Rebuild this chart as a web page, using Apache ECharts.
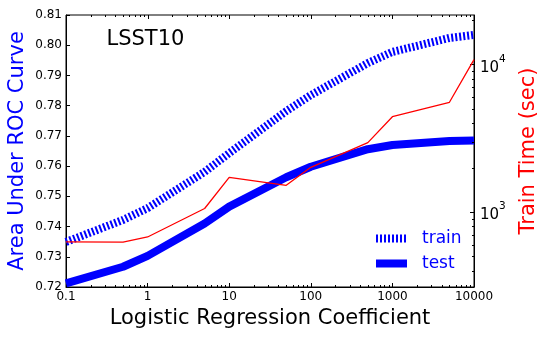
<!DOCTYPE html>
<html><head><meta charset="utf-8">
<script src="https://cdn.jsdelivr.net/npm/echarts@6/dist/echarts.min.js"></script>
<style>html,body{margin:0;padding:0;background:#fff}#c{width:548px;height:339px}</style>
</head><body><div id="c"></div>
<script>
// ---- data ----
const coefficients = [0.1, 0.5, 1, 5, 10, 50, 100, 500, 1000, 5000, 10000];
const trainAUC = [0.7349, 0.7422, 0.7461, 0.7581, 0.7643, 0.7782, 0.7835, 0.7941, 0.7978, 0.8024, 0.8034];
const testAUC  = [0.7212, 0.7267, 0.7303, 0.7410, 0.7466, 0.7563, 0.7598, 0.7656, 0.7670, 0.7683, 0.7685];
const trainTime = [627, 624, 677, 1056, 1718, 1517, 2009, 2951, 4426, 5546, 10800];

const xTickValues = [0.1, 1, 10, 100, 1000, 10000];
const xTickLabels = ['0.1', '1', '10', '100', '1000', '10000'];
const timeTickValues = [1000, 10000];
const timeTickExponents = ['3', '4'];
const seriesNames = ['train', 'test'];

// minor tick positions (axis decoration)
const xMinor = [];
[0.1, 1, 10, 100, 1000].forEach(d => { for (let k = 2; k <= 9; k++) xMinor.push(+(k * d).toPrecision(6)); });
const timeMinor = [400, 500, 600, 700, 800, 900, 2000, 3000, 4000, 5000, 6000, 7000, 8000, 9000, 20000];

const FONT = 'DejaVu Sans';
const Y0 = 0.72, Y1 = 0.81;

const chart = echarts.init(document.getElementById('c'), null, {renderer: 'canvas'});

function px(v) { return Math.round(v) + 0.5; }

const xTickData = xMinor.map(v => [v, 0.72, 2, 1]).concat(xTickValues.map(v => [v, 0.72, 4, 0]));
const yTickData = timeMinor.map(v => [10000, v]);

const option = {
  animation: false,
  backgroundColor: '#fff',
  grid: {left: 66, right: 74, top: 15, bottom: 52, outerBoundsMode: 'none', containLabel: false,
         show: true, borderColor: '#000', borderWidth: 1, backgroundColor: 'transparent'},
  title: {text: 'LSST10', left: 106.5, top: 29, padding: 0,
          textStyle: {fontFamily: FONT, fontSize: 21, fontWeight: 'normal', color: '#000'}},
  legend: {
    orient: 'vertical', left: 372, top: 228.5, padding: 0, itemWidth: 31, itemHeight: 10, itemGap: 5,
    data: [
      {name: seriesNames[0], lineStyle: {width: 8, type: [2, 2], color: '#0000ff', cap: 'butt', opacity: 1}},
      {name: seriesNames[1], lineStyle: {width: 8, color: '#0000ff', opacity: 1}}
    ],
    itemStyle: {opacity: 0, borderWidth: 0},
    textStyle: {fontFamily: FONT, fontSize: 17, color: '#0000ff', lineHeight: 20, padding: [0, 0, 0, 10]}
  },
  xAxis: {
    type: 'log', min: 0.1, max: 10000, logBase: 10,
    name: 'Logistic Regression Coefficient', nameLocation: 'middle', nameGap: 21.5, nameMoveOverlap: false,
    nameTextStyle: {fontFamily: FONT, fontSize: 21, color: '#000'},
    axisLine: {lineStyle: {color: '#000', width: 1}},
    axisTick: {inside: true, length: 4, lineStyle: {color: '#000'}, customValues: xTickValues},
    axisLabel: {customValues: xTickValues, margin: 4, fontFamily: FONT, fontSize: 12, color: '#000',
      formatter: v => { const i = xTickValues.findIndex(t => Math.abs(Math.log10(t) - Math.log10(v)) < 1e-6); return i >= 0 ? xTickLabels[i] : ''; }},
    splitLine: {show: false}, minorTick: {show: false}
  },
  yAxis: [{
    type: 'value', min: Y0, max: Y1, interval: 0.01, position: 'left',
    name: 'Area Under ROC Curve', nameLocation: 'middle', nameGap: 38, nameRotate: 90, nameMoveOverlap: false,
    nameTextStyle: {fontFamily: FONT, fontSize: 21, color: '#0000ff'},
    axisLine: {show: true, lineStyle: {color: '#000', width: 1}},
    axisTick: {inside: true, length: 4, lineStyle: {color: '#000'}},
    axisLabel: {margin: 4, fontFamily: FONT, fontSize: 12, color: '#000', formatter: v => v.toFixed(2)},
    splitLine: {show: false}
  }, {
    type: 'log', min: 310, max: 21660, logBase: 10, position: 'right',
    name: 'Train Time (sec)', nameLocation: 'middle', nameGap: 44.5, nameRotate: 90, nameMoveOverlap: false,
    nameTextStyle: {fontFamily: FONT, fontSize: 21, color: '#ff0000'},
    axisLine: {show: true, lineStyle: {color: '#000', width: 1}},
    axisTick: {inside: true, length: 4, lineStyle: {color: '#000'}, customValues: timeTickValues},
    axisLabel: {customValues: timeTickValues, margin: 6, fontFamily: FONT, color: '#000',
      formatter: v => { const i = timeTickValues.findIndex(t => Math.abs(t - v) < 1); return i >= 0 ? '{b|10}{s|' + timeTickExponents[i] + '}' : ''; },
      rich: {
        b: {fontFamily: FONT, fontSize: 15, color: '#000', lineHeight: 22, verticalAlign: 'bottom'},
        s: {fontFamily: FONT, fontSize: 10.5, color: '#000', verticalAlign: 'top'}
      }},
    splitLine: {show: false}
  }],
  series: [
    {name: seriesNames[0], type: 'line', xAxisIndex: 0, yAxisIndex: 0, symbol: 'none', showSymbol: false, z: 2,
     data: coefficients.map((c, i) => [c, trainAUC[i]]),
     lineStyle: {color: '#0000ff', width: 8, type: [2, 2], cap: 'butt', join: 'round'}, itemStyle: {color: '#0000ff'}},
    {name: seriesNames[1], type: 'line', xAxisIndex: 0, yAxisIndex: 0, symbol: 'none', showSymbol: false, z: 3,
     data: coefficients.map((c, i) => [c, testAUC[i]]),
     lineStyle: {color: '#0000ff', width: 8, join: 'round'}, itemStyle: {color: '#0000ff'}},
    {name: 'time', type: 'line', xAxisIndex: 0, yAxisIndex: 1, symbol: 'none', z: 4,
     data: coefficients.map((c, i) => [c, trainTime[i]]),
     lineStyle: {color: '#ff0000', width: 1.3}, itemStyle: {color: '#ff0000'}},
    {name: 'xticks', type: 'custom', xAxisIndex: 0, yAxisIndex: 0, silent: true, z: 6, clip: false,
     data: xTickData,
     renderItem: (params, api) => {
       const v = api.value(0), len = api.value(2), bottom = api.value(3);
       const pb = api.coord([v, Y0]), pt = api.coord([v, Y1]);
       const x = px(pb[0]);
       const ch = [{type: 'line', shape: {x1: x, y1: pt[1], x2: x, y2: pt[1] + len}, style: {stroke: '#000', lineWidth: 1}}];
       if (bottom) ch.push({type: 'line', shape: {x1: x, y1: pb[1], x2: x, y2: pb[1] - len}, style: {stroke: '#000', lineWidth: 1}});
       return {type: 'group', children: ch};
     }},
    {name: 'yticks', type: 'custom', xAxisIndex: 0, yAxisIndex: 1, silent: true, z: 6, clip: false,
     data: yTickData,
     renderItem: (params, api) => {
       const p = api.coord([10000, api.value(1)]);
       const y = px(p[1]);
       return {type: 'line', shape: {x1: p[0], y1: y, x2: p[0] - 2, y2: y}, style: {stroke: '#000', lineWidth: 1}};
     }}
  ]
};
chart.setOption(option);
</script></body></html>
